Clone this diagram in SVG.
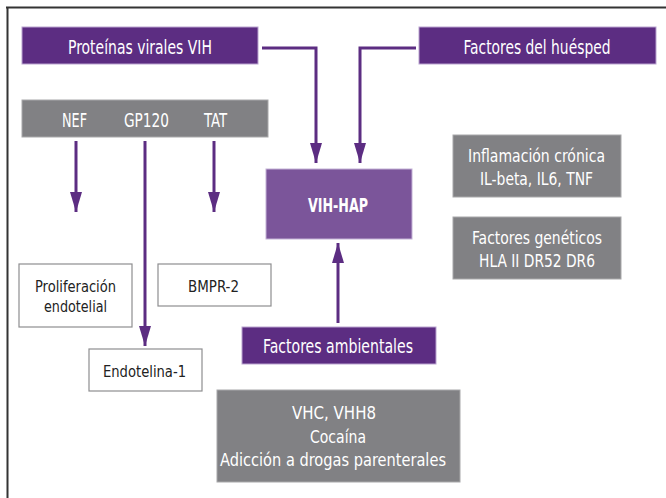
<svg xmlns="http://www.w3.org/2000/svg" width="666" height="498" viewBox="0 0 666 498">
<style>
text{font-family:"DejaVu Sans Condensed","Liberation Sans",sans-serif;font-size:19.5px;text-anchor:middle}
.p rect{fill:#5c2d82;stroke:#b9a3cf;stroke-width:1}
.g rect{fill:#818184;stroke:#a8a8aa;stroke-width:1}
.w rect{fill:#ffffff;stroke:#8e8e90;stroke-width:1.2}
.p text,.g text{fill:#ffffff}
.g text{font-size:18px}
#proteins text{font-size:19px}
.w text{fill:#222222;font-size:16px}
.c path{fill:none;stroke:#5c2d82;stroke-width:3}
</style>
<defs>
<marker id="ah" viewBox="0 0 20 12" refX="20" refY="6" markerWidth="20" markerHeight="12" markerUnits="userSpaceOnUse" orient="auto">
<path d="M0,0 L20,6 L0,12 Z" fill="#5c2d82"/>
</marker>
</defs>
<path d="M6,7.5 H666 M7.5,7 V498" stroke="#333" stroke-width="2" fill="none"/>
<g id="proteinas" class="p"><rect x="22" y="27" width="236" height="37"/><text x="140" y="53.5" textLength="144" lengthAdjust="spacingAndGlyphs">Proteínas virales VIH</text></g>
<g id="huesped" class="p"><rect x="419" y="27" width="237" height="37"/><text x="537" y="53.5" textLength="147" lengthAdjust="spacingAndGlyphs">Factores del huésped</text></g>
<g id="proteins" class="g"><rect x="22" y="100" width="246" height="37"/><text x="74.5" y="127" textLength="25" lengthAdjust="spacingAndGlyphs">NEF</text><text x="146.5" y="127" textLength="45" lengthAdjust="spacingAndGlyphs">GP120</text><text x="215.5" y="127" textLength="23" lengthAdjust="spacingAndGlyphs">TAT</text></g>
<g id="viharap"><rect x="266" y="169" width="146" height="70" fill="#7b559a" stroke="#c4b2d6" stroke-width="1"/><text x="338" y="212" fill="#ffffff" font-weight="bold" font-size="21" textLength="60" lengthAdjust="spacingAndGlyphs">VIH-HAP</text></g>
<g id="inflamacion" class="g"><rect x="453" y="135" width="168" height="62"/><text x="536.5" y="161.5" textLength="137" lengthAdjust="spacingAndGlyphs">Inflamación crónica</text><text x="536.5" y="185" textLength="113" lengthAdjust="spacingAndGlyphs">IL-beta, IL6, TNF</text></g>
<g id="geneticos" class="g"><rect x="453" y="217" width="168" height="62"/><text x="537" y="243.5" textLength="130" lengthAdjust="spacingAndGlyphs">Factores genéticos</text><text x="537" y="267" textLength="116" lengthAdjust="spacingAndGlyphs">HLA II DR52 DR6</text></g>
<g id="proliferacion" class="w"><rect x="19" y="264" width="113" height="63"/><text x="75.5" y="292" textLength="81" lengthAdjust="spacingAndGlyphs">Proliferación</text><text x="75.5" y="311.5" textLength="63" lengthAdjust="spacingAndGlyphs">endotelial</text></g>
<g id="bmpr2" class="w"><rect x="158" y="264" width="113" height="42"/><text x="213.5" y="292" textLength="51" lengthAdjust="spacingAndGlyphs">BMPR-2</text></g>
<g id="endotelina" class="w"><rect x="89" y="349" width="113" height="42"/><text x="144.5" y="377" textLength="83" lengthAdjust="spacingAndGlyphs">Endotelina-1</text></g>
<g id="ambientales" class="p"><rect x="242" y="327" width="194" height="37"/><text x="338" y="353" textLength="150" lengthAdjust="spacingAndGlyphs">Factores ambientales</text></g>
<g id="vhc" class="g"><rect x="217" y="390" width="243" height="92"/><text x="334" y="419" textLength="84" lengthAdjust="spacingAndGlyphs">VHC, VHH8</text><text x="338" y="443" textLength="56" lengthAdjust="spacingAndGlyphs">Cocaína</text><text x="333" y="466" textLength="226" lengthAdjust="spacingAndGlyphs">Adicción a drogas parenterales</text></g>
<g id="connectors" class="c">
<path d="M262,48 H316 V163" marker-end="url(#ah)"/>
<path d="M416,48 H360 V163" marker-end="url(#ah)"/>
<path d="M76,141 V212" marker-end="url(#ah)"/>
<path d="M214,141 V212" marker-end="url(#ah)"/>
<path d="M145,141 V346" marker-end="url(#ah)"/>
<path d="M338,323 V243" marker-end="url(#ah)"/>
</g>
</svg>
